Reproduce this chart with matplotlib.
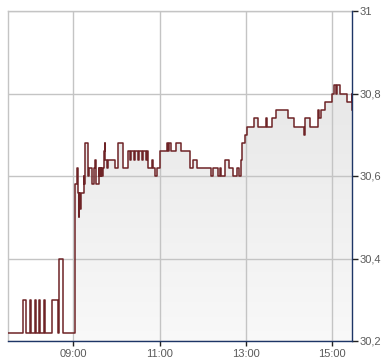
import numpy as np
import matplotlib
matplotlib.use("Agg")
import matplotlib.pyplot as plt
from matplotlib.path import Path
from matplotlib.patches import PathPatch

plt.rcParams['font.family'] = ['Liberation Sans', 'DejaVu Sans']

# ---- data: step changes (minutes relative to 09:00, price) ----
pre_times = [-90.8, -69.5, -65.8, -59.7, -58.8, -53.3, -51.9, -47.2, -45.8,
             -41.2, -39.4, -30.1, -29.2, -20.8, -19.9, -13.9]
pre_prices = [30.22, 30.30, 30.22, 30.30, 30.22, 30.30, 30.22, 30.30, 30.22,
              30.30, 30.22, 30.28, 30.30, 30.22, 30.40, 30.22]

day_times = [2.4, 5.6, 6.1, 7.5, 8.4, 9.3, 10.2, 14.4, 15.5, 16.7, 21.0, 22.3,
             26.0, 28.3, 29.7, 31.6, 35.3, 36.2, 37.0, 38.1, 39.0, 39.9, 40.8,
             43.2, 43.6, 44.5, 46.4, 48.2, 57.5, 61.7, 69.1, 75.6, 78.5, 80.5,
             84.4, 86.5, 90.0, 91.5, 95.5, 97.0, 101.1, 102.3, 104.3, 109.0,
             111.3, 113.6, 115.9, 120.6, 129.8, 132.1, 133.5, 135.4, 143.0,
             149.5, 162.3, 165.8, 172.7, 191.8, 194.7, 200.7, 203.5, 205.0,
             210.9, 215.9, 222.5, 228.1, 230.4, 232.7, 235.0, 238.8, 242.0,
             250.8, 257.3, 268.0, 269.8, 276.5, 282.3, 298.3, 307.1, 321.0,
             322.8, 328.6, 340.7, 342.1, 344.4, 350.0, 359.3, 363.0, 364.8,
             366.7, 370.8, 380.1, 387.1, 387.8]
day_prices = [30.58, 30.62, 30.56, 30.50, 30.56, 30.52, 30.56, 30.60, 30.58,
              30.68, 30.60, 30.62, 30.58, 30.62, 30.64, 30.58, 30.62, 30.60,
              30.62, 30.60, 30.62, 30.60, 30.62, 30.66, 30.68, 30.64, 30.62,
              30.64, 30.62, 30.68, 30.62, 30.66, 30.64, 30.66, 30.64, 30.66,
              30.64, 30.66, 30.64, 30.66, 30.64, 30.66, 30.62, 30.64, 30.62,
              30.60, 30.62, 30.66, 30.68, 30.66, 30.68, 30.66, 30.68, 30.66,
              30.62, 30.64, 30.62, 30.60, 30.62, 30.60, 30.62, 30.60, 30.64,
              30.62, 30.60, 30.62, 30.60, 30.64, 30.68, 30.70, 30.72, 30.74,
              30.72, 30.74, 30.72, 30.74, 30.76, 30.74, 30.72, 30.70, 30.74,
              30.72, 30.76, 30.74, 30.76, 30.78, 30.80, 30.82, 30.80, 30.82,
              30.80, 30.78, 30.80, 30.76]

x_ticks = [540, 660, 780, 900]
x_tick_labels = ["09:00", "11:00", "13:00", "15:00"]
y_ticks = [30.2, 30.4, 30.6, 30.8, 31.0]
y_tick_labels = ["30,2", "30,4", "30,6", "30,8", "31"]

x_start, x_end = 540 - 90.8, 540 + 388.0
y_min, y_max = 30.2, 31.0

# ---- figure ----
W, H = 390, 364
fig = plt.figure(figsize=(W / 100, H / 100), dpi=100)
ax = fig.add_axes([8 / W, 23 / H, (352.3 - 8) / W, (341 - 11) / H])

t_all = np.array(pre_times + day_times) + 540
p_all = np.array(pre_prices + day_prices)
t_ext = np.append(t_all, x_end)
p_ext = np.append(p_all, p_all[-1])

line_color = '#6e2326'
ax.step(t_ext, p_ext, where='post', color=line_color, lw=1.1, zorder=3)

# gradient fill under the day session
td = np.append(np.array(day_times) + 540, x_end)
pd_ = np.append(np.array(day_prices), day_prices[-1])
vx = [td[0]]
vy = [y_min]
for i in range(len(td) - 1):
    vx += [td[i], td[i + 1]]
    vy += [pd_[i], pd_[i]]
vx += [td[-1], td[0]]
vy += [y_min, y_min]
poly = Path(np.column_stack([vx, vy]))
patch = PathPatch(poly, facecolor='none', edgecolor='none')
ax.add_patch(patch)
grad = np.linspace(0, 1, 256).reshape(-1, 1)
c_top = np.array([0.905, 0.905, 0.905])
c_bot = np.array([0.975, 0.975, 0.975])
img = c_top[None, None, :] * (1 - grad[:, :, None]) + c_bot[None, None, :] * grad[:, :, None]
im = ax.imshow(img, extent=[x_start, x_end, y_min, 30.84], origin='upper',
               aspect='auto', zorder=0.3, interpolation='bilinear')
im.set_clip_path(patch)

ax.set_xlim(x_start, x_end)
ax.set_ylim(y_min, y_max)

grid_c = '#c4c4c4'
for x in x_ticks:
    ax.axvline(x, color=grid_c, lw=1.0, zorder=1)
for y in y_ticks:
    ax.axhline(y, color=grid_c, lw=1.0, zorder=1)

navy = '#1d3566'
ax.spines['left'].set_color(grid_c)
ax.spines['top'].set_color(grid_c)
ax.spines['right'].set_color(navy)
ax.spines['bottom'].set_color(navy)
for s in ax.spines.values():
    s.set_linewidth(1.0)
ax.spines['right'].set_zorder(4)
ax.spines['bottom'].set_zorder(4)

ax.yaxis.tick_right()
ax.set_yticks(y_ticks)
ax.set_yticklabels(y_tick_labels)
ax.set_xticks(x_ticks)
ax.set_xticklabels(x_tick_labels)
ax.tick_params(axis='y', direction='out', length=4, width=1, color='#222222',
               pad=1, labelsize=8, labelcolor='#5a5a5a')
ax.tick_params(axis='x', direction='out', length=3.5, width=1, color='#222222',
               pad=2, labelsize=8, labelcolor='#5a5a5a')

fig.savefig('out.png', dpi=100, facecolor='white')
